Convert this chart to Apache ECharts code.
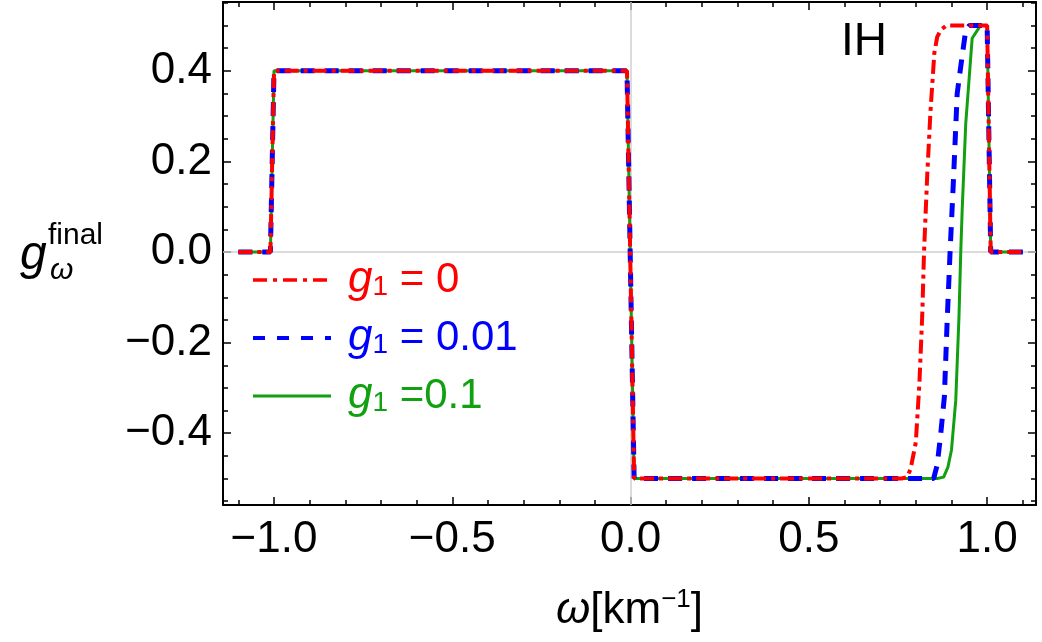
<!DOCTYPE html>
<html>
<head>
<meta charset="utf-8">
<script src="https://cdn.jsdelivr.net/npm/echarts@6/dist/echarts.min.js"></script>
<style>
html, body { margin: 0; padding: 0; background: #fff; }
#chart { width: 1042px; height: 642px; }
</style>
</head>
<body>
<div id="chart"></div>
<script>
// step parts shared by all three curves
const stepLeft = [[-1.1, 0], [-1.01, 0], [-1.0, 0.4], [-0.01, 0.4], [0.01, -0.5]];
const stepRight = [[1.0, 0.5], [1.01, 0], [1.1, 0]];

// rising edge near omega ~ 0.8-1.0
const riseG0 = [[0.76, -0.5], [0.775, -0.497], [0.785, -0.48], [0.80, -0.42], [0.81, -0.29],
    [0.818, -0.14], [0.823, 0], [0.832, 0.17], [0.841, 0.31], [0.852, 0.44], [0.86, 0.475],
    [0.87, 0.49], [0.885, 0.5]];
const riseG001 = [[0.85, -0.5], [0.86, -0.47], [0.87, -0.40], [0.88, -0.32], [0.888, -0.15],
    [0.896, 0], [0.905, 0.15], [0.916, 0.35], [0.926, 0.41], [0.94, 0.49], [0.95, 0.5]];
const riseG01 = [[0.86, -0.5], [0.878, -0.497], [0.89, -0.475], [0.90, -0.437], [0.912, -0.327],
    [0.921, -0.143], [0.926, 0], [0.93, 0.093], [0.94, 0.284], [0.958, 0.472], [0.977, 0.495],
    [0.98, 0.5]];

const seriesNames = ['g1 = 0', 'g1 = 0.01', 'g1 =0.1'];

const xMajorTicks = [-1.0, -0.5, 0, 0.5, 1.0];
const xMinorTicks = [-1.1, -0.9, -0.8, -0.7, -0.6, -0.4, -0.3, -0.2, -0.1,
    0.1, 0.2, 0.3, 0.4, 0.6, 0.7, 0.8, 0.9, 1.1];
const yMajorTicks = [-0.4, -0.2, 0, 0.2, 0.4];
const yMinorTicks = [-0.55, -0.5, -0.45, -0.35, -0.3, -0.25, -0.15, -0.1, -0.05,
    0.05, 0.1, 0.15, 0.25, 0.3, 0.35, 0.45, 0.5, 0.55];

const X_MIN = -1.143, X_MAX = 1.137;
const Y_MIN = -0.5585, Y_MAX = 0.552;

const FONT = '"Liberation Sans", Arial, sans-serif';

function fmt(v) {
    return (v < 0 ? '\u2212' : '') + Math.abs(v).toFixed(1);
}

function xAx(position, ticks, len, labels, line) {
    return {
        type: 'value', min: X_MIN, max: X_MAX, position: position,
        axisLine: { show: line, onZero: false, lineStyle: { color: '#000', width: 2 } },
        axisTick: { show: true, inside: true, length: len, customValues: ticks, lineStyle: { color: '#000', width: 1.5 } },
        axisLabel: labels ? {
            show: true, customValues: ticks, formatter: fmt, color: '#000',
            fontSize: 44, fontFamily: FONT, margin: 13
        } : { show: false },
        splitLine: { show: false }
    };
}

function yAx(position, ticks, len, labels, line) {
    return {
        type: 'value', min: Y_MIN, max: Y_MAX, position: position,
        axisLine: { show: line, onZero: false, lineStyle: { color: '#000', width: 2 } },
        axisTick: { show: true, inside: true, length: len, customValues: ticks, lineStyle: { color: '#000', width: 1.5 } },
        axisLabel: labels ? {
            show: true, customValues: ticks, formatter: fmt, color: '#000',
            fontSize: 44, fontFamily: FONT, margin: 11
        } : { show: false },
        splitLine: { show: false }
    };
}

const xBottom = xAx('bottom', xMajorTicks, 8, true, true);
xBottom.name = '{w|\u03c9}{a|[km}{s|\u22121}{a|]}';
xBottom.nameLocation = 'middle';
xBottom.nameGap = 82;
xBottom.nameTextStyle = {
    color: '#000', fontFamily: FONT,
    rich: {
        w: { fontSize: 44, fontStyle: 'italic', fontFamily: FONT, color: '#000' },
        a: { fontSize: 44, fontFamily: FONT, color: '#000' },
        s: { fontSize: 26, fontFamily: FONT, color: '#000', padding: [0, 0, 22, 0] }
    }
};

const chart = echarts.init(document.getElementById('chart'));

chart.setOption({
    animation: false,
    backgroundColor: '#fff',
    grid: { left: 223, right: 6, top: 2, bottom: 137, containLabel: false },
    xAxis: [
        xBottom,
        xAx('bottom', xMinorTicks, 5, false, false),
        xAx('top', xMajorTicks, 8, false, true),
        xAx('top', xMinorTicks, 5, false, false)
    ],
    yAxis: [
        yAx('left', yMajorTicks, 8, true, true),
        yAx('left', yMinorTicks, 5, false, false),
        yAx('right', yMajorTicks, 8, false, true),
        yAx('right', yMinorTicks, 5, false, false)
    ],
    legend: {
        orient: 'vertical',
        left: 246, top: 253,
        itemWidth: 78, itemHeight: 20, itemGap: 14,
        selectedMode: false,
        itemStyle: { opacity: 0 },
        data: [
            { name: seriesNames[0], textStyle: { color: '#ff0000' },
              lineStyle: { width: 3.5, type: [14, 6, 4, 6] } },
            { name: seriesNames[1], textStyle: { color: '#0000ff' },
              lineStyle: { width: 4, type: [12, 12] } },
            { name: seriesNames[2], textStyle: { color: '#10a010' },
              lineStyle: { width: 3 } }
        ],
        formatter: function (name) {
            return '{g|g}{s|1}{t|' + name.slice(2) + '}';
        },
        textStyle: {
            fontSize: 42, fontFamily: FONT, padding: [0, 0, 0, 12],
            rich: {
                g: { fontSize: 44, fontStyle: 'italic', fontFamily: FONT },
                s: { fontSize: 28, fontFamily: FONT, padding: [14, 0, 0, 0] },
                t: { fontSize: 42, fontFamily: FONT }
            }
        }
    },
    graphic: [
        { type: 'text', left: 20, top: 232, style: { text: 'g', font: 'italic 48px ' + FONT, fill: '#000' } },
        { type: 'text', left: 48, top: 221, style: { text: 'final', font: '30px ' + FONT, fill: '#000' } },
        { type: 'text', left: 50, top: 256, style: { text: '\u03c9', font: 'italic 30px ' + FONT, fill: '#000' } },
        { type: 'text', left: 841, top: 19, style: { text: 'IH', font: '46px ' + FONT, fill: '#000' } }
    ],
    series: [
        {
            name: seriesNames[2], type: 'line', z: 3,
            data: stepLeft.concat(riseG01, stepRight),
            showSymbol: false, symbol: 'none',
            lineStyle: { color: '#10a010', width: 3, type: 'solid' },
            itemStyle: { color: '#10a010' },
            markLine: {
                silent: true, symbol: 'none', z: 1,
                label: { show: false },
                lineStyle: { color: '#cfcfcf', width: 1.5, type: 'solid' },
                data: [{ xAxis: 0 }, { yAxis: 0 }]
            }
        },
        {
            name: seriesNames[1], type: 'line', z: 4,
            data: stepLeft.concat(riseG001, stepRight),
            showSymbol: false, symbol: 'none',
            lineStyle: { color: '#0000ff', width: 5, type: [14, 10] },
            itemStyle: { color: '#0000ff' }
        },
        {
            name: seriesNames[0], type: 'line', z: 5,
            data: stepLeft.concat(riseG0, stepRight),
            showSymbol: false, symbol: 'none',
            lineStyle: { color: '#ff0000', width: 4, type: [14, 5, 4, 5] },
            itemStyle: { color: '#ff0000' }
        }
    ]
});
</script>
</body>
</html>
